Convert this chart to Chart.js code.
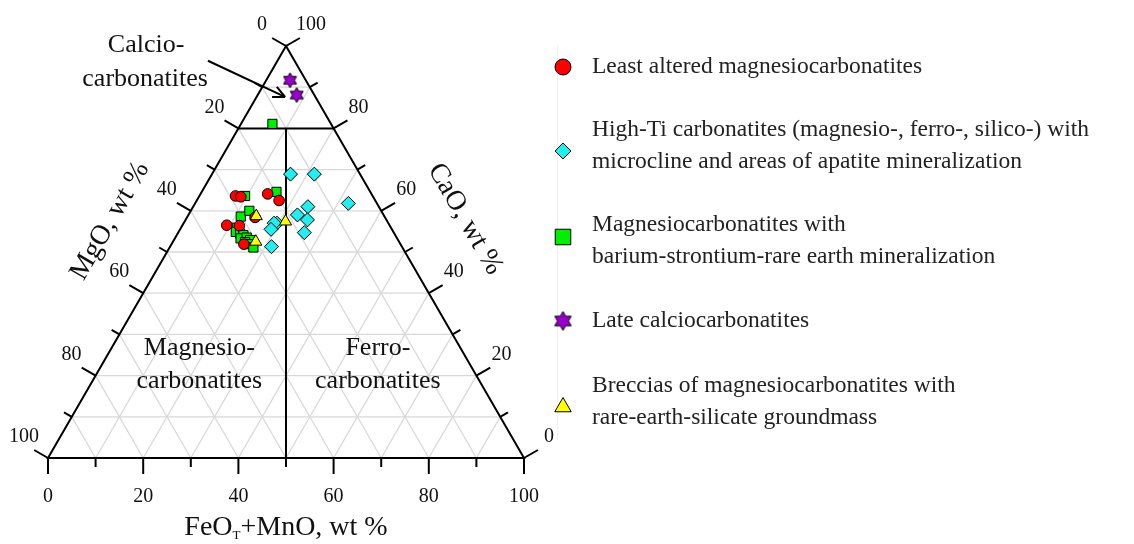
<!DOCTYPE html>
<html>
<head>
<meta charset="utf-8">
<title>MgO - FeOT+MnO - CaO ternary diagram</title>
<script src="https://cdn.jsdelivr.net/npm/chart.js@4.4.1/dist/chart.umd.min.js"></script>
<style>
	html, body { margin: 0; padding: 0; background: #ffffff; }
	canvas { display: block; }
</style>
</head>
<body>
<canvas id="ternaryChart" width="1134" height="544"></canvas>
<script>
//	Compositions in wt %, each point is [MgO, FeOT+MnO, CaO]
var leastAltered = [
	[28.8, 7.6, 63.6], [27.8, 8.8, 63.4], [21.8, 14.1, 64.1], [20.2, 17.3, 62.5],
	[34.2, 9.3, 56.5], [31.6, 12.0, 56.4], [27.3, 14.3, 58.4], [32.9, 15.2, 51.9]
];
var highTi = [
	[14.6, 16.5, 68.9], [9.6, 21.5, 68.9], [14.9, 24.1, 61.0], [6.0, 32.2, 61.8],
	[18.1, 22.9, 59.0], [16.6, 25.6, 57.8], [18.8, 26.5, 54.7], [23.4, 19.6, 57.0],
	[24.0, 19.0, 57.0], [25.4, 19.1, 55.5], [27.4, 21.3, 51.3]
];
var baSrRee = [
	[26.8, 9.6, 63.6], [19.7, 15.7, 64.6], [30.2, 11.2, 58.6], [27.7, 12.3, 60.0],
	[32.4, 11.7, 55.9], [33.1, 12.0, 54.9], [32.4, 13.1, 54.5], [31.9, 14.0, 54.1],
	[32.9, 13.8, 53.3], [31.5, 15.0, 53.5], [31.1, 16.0, 52.9], [32.4, 15.2, 52.4],
	[31.6, 16.5, 51.9], [31.3, 17.6, 51.1], [12.3, 6.6, 81.1]
];
var lateCalcio = [
	[3.3, 5.0, 91.7], [3.7, 8.2, 88.1]
];
var breccias = [
	[26.9, 14.4, 58.7], [21.4, 21.2, 57.4], [30.1, 17.4, 52.5]
];

//	Axis ticks (wt %)
var majorTicks = [0, 20, 40, 60, 80, 100];
var minorTicks = [10, 30, 50, 70, 90];
var gridSteps = [10, 20, 30, 40, 50, 60, 70, 80, 90];

var legendLabels = [
	['Least altered magnesiocarbonatites'],
	['High-Ti carbonatites (magnesio-, ferro-, silico-) with', 'microcline and areas of apatite mineralization'],
	['Magnesiocarbonatites with', 'barium-strontium-rare earth mineralization'],
	['Late calciocarbonatites'],
	['Breccias of magnesiocarbonatites with', 'rare-earth-silicate groundmass']
];

var SQ3_2 = Math.sqrt(3) / 2;
var SERIF = '"Liberation Serif", "DejaVu Serif", serif';

/**
 *	Ternary [MgO, FeO, CaO] to plot units: FeO=100 on the right, CaO=100 at the apex
 */
function toCartesian(c) {
	return { x: c[1] + c[2] / 2, y: c[2] * SQ3_2 };
}

/**
 *	Draws a filled six pointed star on a small canvas, used as a point style
 */
function makeHexagram(size, fill) {
	var cv = document.createElement('canvas');
	cv.width = size + 2;
	cv.height = size + 2;
	var c = cv.getContext('2d');
	var cx = cv.width / 2, cy = cv.height / 2;
	var R = size / 2, r = R / Math.sqrt(3);
	c.beginPath();
	for (let i = 0; i < 12; i++) {
		var a = -Math.PI / 2 + i * Math.PI / 6;
		var rr = (i % 2 === 0) ? R : r;
		c.lineTo(cx + rr * Math.cos(a), cy + rr * Math.sin(a));
	}
	c.closePath();
	c.fillStyle = fill;
	c.fill();
	c.lineWidth = 1;
	c.strokeStyle = '#000000';
	c.stroke();
	return cv;
}

var starSmall = makeHexagram(15, '#9a00cc');
var starLarge = makeHexagram(19, '#9a00cc');

var series = [
	{ data: leastAltered, color: '#ff0000', style: 'circle', radius: 5.3, legendRadius: 8, order: 1 },
	{ data: highTi, color: '#22eef0', style: 'rectRot', radius: 7, legendRadius: 8, order: 3 },
	{ data: baSrRee, color: '#00ee00', style: 'rect', radius: 6.5, legendRadius: 11, order: 2 },
	{ data: lateCalcio, color: '#9a00cc', style: starSmall, radius: 7, legendRadius: 9, order: 4 },
	{ data: breccias, color: '#ffff00', style: 'triangle', radius: 7, legendRadius: 9.5, order: 0 }
];

//	Pixel position of a ternary composition
function tern(chart, mgo, feo, cao) {
	return [chart.scales.x.getPixelForValue(feo + cao / 2), chart.scales.y.getPixelForValue(cao * SQ3_2)];
}

//	Pixel position of a point given in plot units
function at(chart, x, y) {
	return [chart.scales.x.getPixelForValue(x), chart.scales.y.getPixelForValue(y)];
}

function segment(ctx, a, b) {
	ctx.beginPath();
	ctx.moveTo(a[0], a[1]);
	ctx.lineTo(b[0], b[1]);
	ctx.stroke();
}

/**
 *	Triangle frame, grid, fields, ticks and labels
 */
var ternaryFrame = {
	id: 'ternaryFrame',
	beforeDatasetsDraw: function (chart) {
		var ctx = chart.ctx;
		ctx.save();

		//	Light 10 % grid in the three directions
		ctx.strokeStyle = '#d8d8d8';
		ctx.lineWidth = 1.3;
		gridSteps.forEach(function (k) {
			segment(ctx, tern(chart, 100 - k, 0, k), tern(chart, 0, 100 - k, k));
			segment(ctx, tern(chart, 100 - k, k, 0), tern(chart, 0, k, 100 - k));
			segment(ctx, tern(chart, k, 100 - k, 0), tern(chart, k, 0, 100 - k));
		});

		//	Outer triangle and field boundaries
		ctx.strokeStyle = '#000000';
		ctx.lineWidth = 2;
		ctx.lineJoin = 'miter';
		var mg = tern(chart, 100, 0, 0), fe = tern(chart, 0, 100, 0), ca = tern(chart, 0, 0, 100);
		ctx.beginPath();
		ctx.moveTo(mg[0], mg[1]);
		ctx.lineTo(fe[0], fe[1]);
		ctx.lineTo(ca[0], ca[1]);
		ctx.closePath();
		ctx.stroke();
		segment(ctx, tern(chart, 20, 0, 80), tern(chart, 0, 20, 80));
		segment(ctx, tern(chart, 10, 10, 80), tern(chart, 50, 50, 0));

		//	Ticks, perpendicular to each side
		var axes = [
			{ pt: function (v) { return tern(chart, 100 - v, v, 0); }, dir: [0, 1] },
			{ pt: function (v) { return tern(chart, v, 0, 100 - v); }, dir: [-SQ3_2, -0.5] },
			{ pt: function (v) { return tern(chart, 0, 100 - v, v); }, dir: [SQ3_2, -0.5] }
		];
		axes.forEach(function (ax) {
			majorTicks.forEach(function (v) {
				var p = ax.pt(v);
				segment(ctx, p, [p[0] + ax.dir[0] * 16, p[1] + ax.dir[1] * 16]);
			});
			minorTicks.forEach(function (v) {
				var p = ax.pt(v);
				segment(ctx, p, [p[0] + ax.dir[0] * 9, p[1] + ax.dir[1] * 9]);
			});
		});

		//	Tick labels
		ctx.fillStyle = '#111111';
		ctx.font = '20px ' + SERIF;
		ctx.textAlign = 'center';
		ctx.textBaseline = 'middle';
		majorTicks.forEach(function (v) {
			var p = axes[0].pt(v);
			ctx.fillText(String(v), p[0], p[1] + 39);
			p = axes[1].pt(v);
			ctx.fillText(String(v), p[0] - 24, p[1] - 21);
			p = axes[2].pt(v);
			ctx.fillText(String(v), p[0] + 25, p[1] - 21);
		});

		//	Axis titles
		ctx.font = '28px ' + SERIF;
		var bx = (mg[0] + fe[0]) / 2, by = mg[1] + 70;
		var w1 = ctx.measureText('FeO').width;
		var w3 = ctx.measureText('+MnO, wt %').width;
		ctx.font = '13px ' + SERIF;
		var w2 = ctx.measureText('T').width;
		var x0 = bx - (w1 + w2 + w3) / 2;
		ctx.textAlign = 'left';
		ctx.font = '28px ' + SERIF;
		ctx.fillText('FeO', x0, by);
		ctx.fillText('+MnO, wt %', x0 + w1 + w2, by);
		ctx.font = '13px ' + SERIF;
		ctx.fillText('T', x0 + w1, by + 8);

		ctx.textAlign = 'center';
		ctx.font = '28px ' + SERIF;
		ctx.save();
		ctx.translate(110, 221);
		ctx.rotate(-Math.PI / 3);
		ctx.fillText('MgO, wt %', 0, 0);
		ctx.restore();
		ctx.save();
		ctx.translate(465, 219);
		ctx.rotate(Math.PI / 3);
		ctx.fillText('CaO, wt %', 0, 0);
		ctx.restore();

		//	Field names
		ctx.font = '26px ' + SERIF;
		var p;
		p = at(chart, 31.8, 23.1); ctx.fillText('Magnesio-', p[0], p[1]);
		p = at(chart, 31.8, 16.2); ctx.fillText('carbonatites', p[0], p[1]);
		p = at(chart, 69.3, 23.1); ctx.fillText('Ferro-', p[0], p[1]);
		p = at(chart, 69.3, 16.2); ctx.fillText('carbonatites', p[0], p[1]);
		p = at(chart, 20.6, 86.8); ctx.fillText('Calcio-', p[0], p[1]);
		p = at(chart, 20.4, 79.7); ctx.fillText('carbonatites', p[0], p[1]);

		//	Arrow to the calciocarbonatite field
		var a = at(chart, 33.6, 83.5), b = at(chart, 49.8, 75.9);
		ctx.lineWidth = 2;
		segment(ctx, a, b);
		var ang = Math.atan2(b[1] - a[1], b[0] - a[0]);
		[0.45, -0.45].forEach(function (d) {
			segment(ctx, b, [b[0] - 13 * Math.cos(ang + d), b[1] - 13 * Math.sin(ang + d)]);
		});

		ctx.restore();
	},
	afterDraw: function (chart) {
		var ctx = chart.ctx;
		var rowsY = [67, 146, 241, 321, 402];
		ctx.save();

		//	Faint divider left of the legend
		ctx.strokeStyle = '#f0f0f0';
		ctx.lineWidth = 1;
		segment(ctx, [557.5, 45], [557.5, 440]);

		ctx.font = '23.5px ' + SERIF;
		ctx.textAlign = 'left';
		ctx.textBaseline = 'middle';
		series.forEach(function (s, i) {
			var y = rowsY[i];
			var lines = legendLabels[i];
			var my = lines.length > 1 ? y + 5 : y;
			if (i === 2) my = y - 4;
			ctx.fillStyle = s.color;
			ctx.strokeStyle = '#000000';
			ctx.lineWidth = 1;
			Chart.helpers.drawPoint(ctx, {
				pointStyle: s.style === starSmall ? starLarge : s.style,
				radius: s.legendRadius,
				rotation: 0,
				borderWidth: 1
			}, 563, my);
			ctx.fillStyle = '#222222';
			lines.forEach(function (t, j) {
				var ty = y + (j - (lines.length - 1) / 2) * 32;
				ctx.fillText(t, 592, ty);
			});
		});
		ctx.restore();
	}
};

var ctx = document.getElementById('ternaryChart');
var ternaryChart = new Chart(ctx, {
	type: 'scatter',
	data: {
		datasets: series.map(function (s, i) {
			return {
				label: legendLabels[i].join(' '),
				data: s.data.map(toCartesian),
				pointStyle: s.style,
				pointRadius: s.radius,
				pointBackgroundColor: s.color,
				pointBorderColor: '#000000',
				pointBorderWidth: 1,
				order: s.order,
				clip: false
			};
		})
	},
	options: {
		responsive: false,
		animation: false,
		layout: {
			padding: { left: 48, top: 46, right: 610, bottom: 86 }
		},
		scales: {
			x: { type: 'linear', min: 0, max: 100, display: false },
			y: { type: 'linear', min: 0, max: 100 * SQ3_2, display: false }
		},
		plugins: {
			legend: { display: false },
			tooltip: { enabled: false }
		}
	},
	plugins: [ternaryFrame]
});
</script>
</body>
</html>
